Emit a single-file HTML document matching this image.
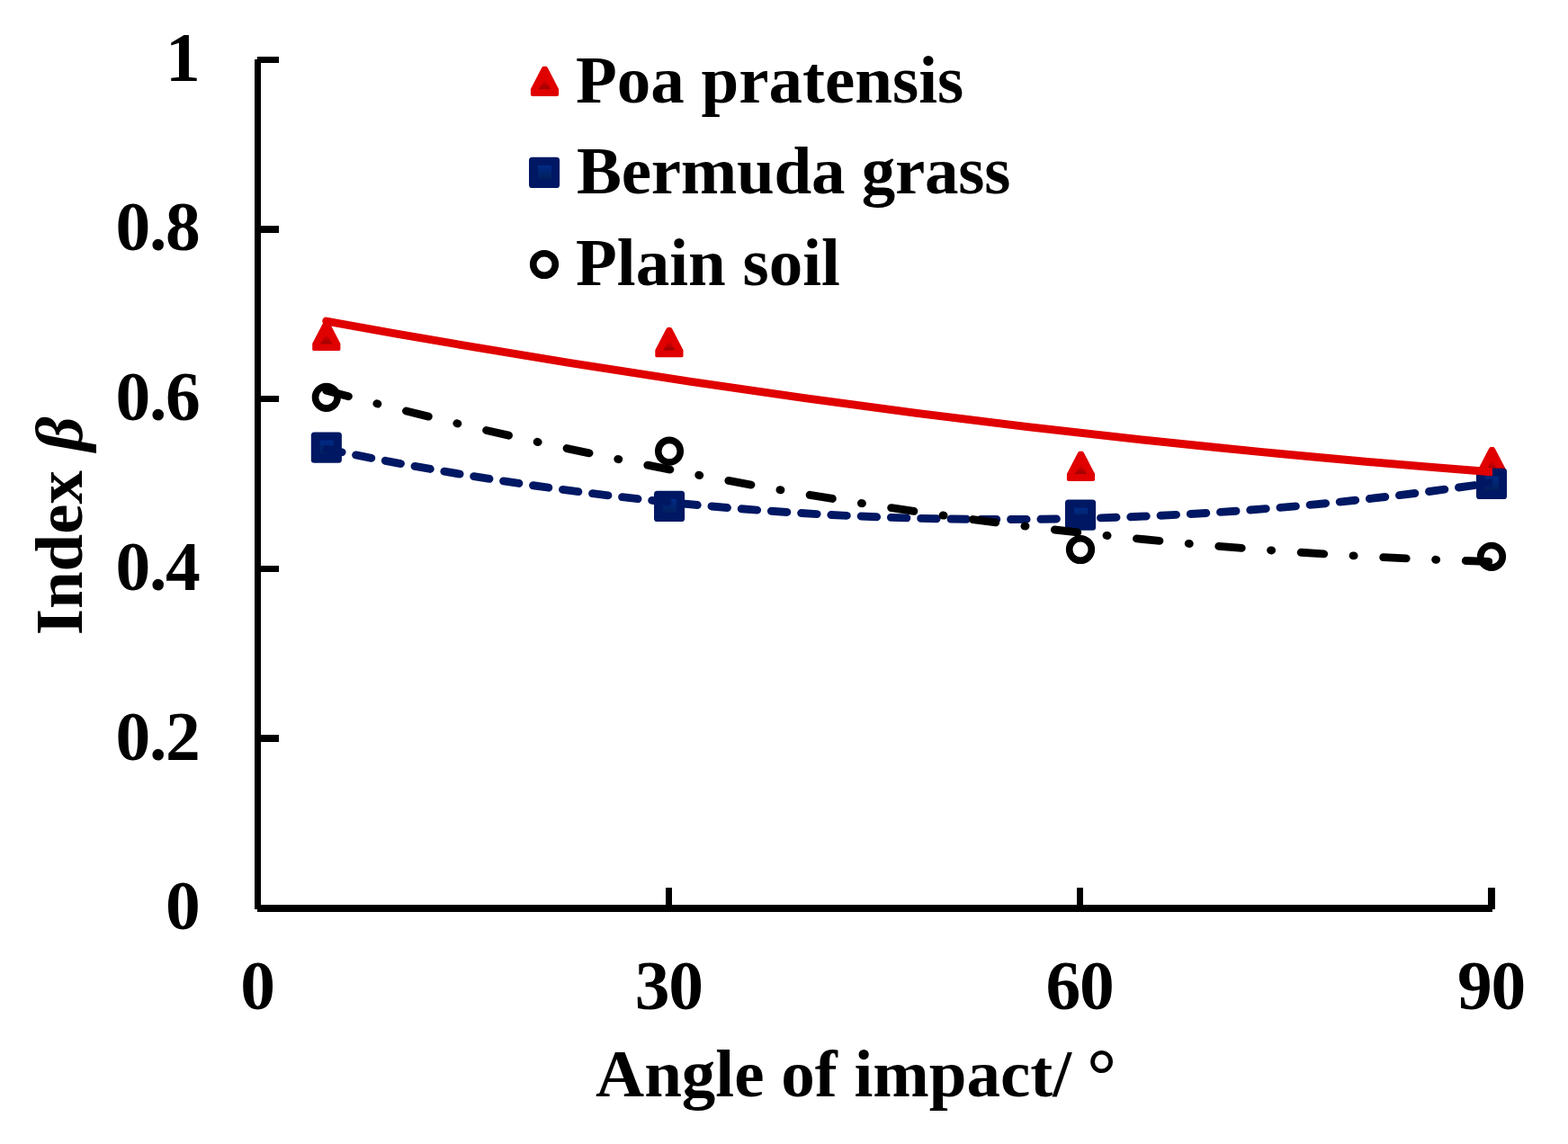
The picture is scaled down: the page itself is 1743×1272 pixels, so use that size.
<!DOCTYPE html>
<html lang="en">
<head>
<meta charset="utf-8">
<title>Index β versus angle of impact</title>
<style>
html,body{margin:0;padding:0;background:#fff;}
body{width:1743px;height:1272px;overflow:hidden;}
svg{display:block;}
text{font-family:"Liberation Serif","DejaVu Serif",serif;font-weight:bold;font-size:75px;fill:#000;}
.num text{font-size:77.5px;letter-spacing:-1.25px;}
</style>
</head>
<body>
<svg width="1743" height="1272" viewBox="0 0 1743 1272">
<defs>
<linearGradient id="gr" x1="0" y1="0" x2="0" y2="1"><stop offset="0.1" stop-color="#d60000"/><stop offset="1" stop-color="#9c0000"/></linearGradient>
<linearGradient id="gb" x1="0" y1="0" x2="0" y2="1"><stop offset="0" stop-color="#002a86"/><stop offset="1" stop-color="#00205c"/></linearGradient>
<clipPath id="plot"><rect x="0" y="0" width="1659" height="1272"/></clipPath>
</defs>
<rect width="1743" height="1272" fill="#fff"/>

<g fill="#000" shape-rendering="crispEdges">
<rect x="283" y="66" width="7" height="945"/>
<rect x="286" y="1006" width="1373" height="8"/>
<rect x="286" y="63" width="24" height="7"/>
<rect x="286" y="251" width="24" height="8"/>
<rect x="286" y="440" width="24" height="7"/>
<rect x="286" y="629" width="24" height="7"/>
<rect x="286" y="817" width="24" height="8"/>
<rect x="740" y="987" width="7" height="24"/>
<rect x="1197" y="987" width="7" height="24"/>
<rect x="1654" y="987" width="8" height="24"/>
</g>
<g class="num" text-anchor="end">
<text x="221.6" y="90.3">1</text>
<text x="221.6" y="278.3">0.8</text>
<text x="221.6" y="467.3">0.6</text>
<text x="221.6" y="656.2">0.4</text>
<text x="221.6" y="844.8">0.2</text>
<text x="221.6" y="1033.3">0</text>
</g>
<g class="num" text-anchor="middle">
<text x="286.0" y="1122.3">0</text>
<text x="743.2" y="1122.3">30</text>
<text x="1200.0" y="1122.3">60</text>
<text x="1657.5" y="1122.3">90</text>
</g>
<text x="662" y="1219">Angle of impact/ <tspan font-size="82" dx="-1.6" dy="4.2">°</tspan></text>
<text transform="translate(90.5 706.3) rotate(-90)">Index <tspan font-style="italic" dx="2.5">β</tspan></text>
<g transform="translate(605.5 90.4)"><path d="M-1.4-16.6H1.4Q2.6-16.6 3.4-15L15.6 8.6V15.2Q15.4 16.6 13.6 16.6H-13.6Q-15.4 16.6-15.6 15.2V8.6L-3.4-15Q-2.6-16.6-1.4-16.6Z" fill="#e00000"/><path d="M0-1.6L6.8 8.7H-6.8Z" fill="url(#gr)"/></g>
<text x="640" y="114">Poa pratensis</text>
<g transform="translate(605.0 192.0)"><rect x="-17" y="-17.2" width="34.1" height="34.2" rx="3.6" fill="#001863"/><rect x="-7" y="-8.1" width="15" height="15" fill="url(#gb)"/></g>
<text x="641" y="215" letter-spacing="-0.25">Bermuda grass</text>
<circle cx="605.0" cy="294.0" r="12.3" fill="none" stroke="#000" stroke-width="7.6"/>
<text x="640" y="317">Plain soil</text>
<g>
<g transform="translate(362.8 373.5)"><path d="M-1.4-16.6H1.4Q2.6-16.6 3.4-15L15.6 8.6V15.2Q15.4 16.6 13.6 16.6H-13.6Q-15.4 16.6-15.6 15.2V8.6L-3.4-15Q-2.6-16.6-1.4-16.6Z" fill="#e00000"/><path d="M0-1.6L6.8 8.7H-6.8Z" fill="url(#gr)"/></g>
<g transform="translate(743.9 380.7)"><path d="M-1.4-16.6H1.4Q2.6-16.6 3.4-15L15.6 8.6V15.2Q15.4 16.6 13.6 16.6H-13.6Q-15.4 16.6-15.6 15.2V8.6L-3.4-15Q-2.6-16.6-1.4-16.6Z" fill="#e00000"/><path d="M0-1.6L6.8 8.7H-6.8Z" fill="url(#gr)"/></g>
<g transform="translate(1201.5 518.4)"><path d="M-1.4-16.6H1.4Q2.6-16.6 3.4-15L15.6 8.6V15.2Q15.4 16.6 13.6 16.6H-13.6Q-15.4 16.6-15.6 15.2V8.6L-3.4-15Q-2.6-16.6-1.4-16.6Z" fill="#e00000"/><path d="M0-1.6L6.8 8.7H-6.8Z" fill="url(#gr)"/></g>
<g transform="translate(1658.5 513.7)"><path d="M-1.4-16.6H1.4Q2.6-16.6 3.4-15L15.6 8.6V15.2Q15.4 16.6 13.6 16.6H-13.6Q-15.4 16.6-15.6 15.2V8.6L-3.4-15Q-2.6-16.6-1.4-16.6Z" fill="#e00000"/><path d="M0-1.6L6.8 8.7H-6.8Z" fill="url(#gr)"/></g>
<g transform="translate(362.8 497.8)"><rect x="-17" y="-17.2" width="34.1" height="34.2" rx="3.6" fill="#001863"/><rect x="-7" y="-8.1" width="15" height="15" fill="url(#gb)"/></g>
<g transform="translate(744.0 563.0)"><rect x="-17" y="-17.2" width="34.1" height="34.2" rx="3.6" fill="#001863"/><rect x="-7" y="-8.1" width="15" height="15" fill="url(#gb)"/></g>
<g transform="translate(1201.0 572.8)"><rect x="-17" y="-17.2" width="34.1" height="34.2" rx="3.6" fill="#001863"/><rect x="-7" y="-8.1" width="15" height="15" fill="url(#gb)"/></g>
<g transform="translate(1658.0 538.0)"><rect x="-17" y="-17.2" width="34.1" height="34.2" rx="3.6" fill="#001863"/><rect x="-7" y="-8.1" width="15" height="15" fill="url(#gb)"/></g>
<circle cx="362.8" cy="441.8" r="12.3" fill="none" stroke="#000" stroke-width="7.6"/>
<circle cx="744.0" cy="501.7" r="12.3" fill="none" stroke="#000" stroke-width="7.6"/>
<circle cx="1201.0" cy="611.0" r="12.3" fill="none" stroke="#000" stroke-width="7.6"/>
<circle cx="1658.0" cy="618.8" r="12.3" fill="none" stroke="#000" stroke-width="7.6"/>
</g>
<g fill="none" stroke-width="8.9" stroke-linecap="round" clip-path="url(#plot)">
<path d="M362.70 357.03 Q1010.40 475.54 1658.10 524.75" stroke="#e00000"/>
<path d="M362.70 499.23 Q1010.40 633.99 1658.10 536.70" stroke="#001863" stroke-dasharray="17.5 15.806" stroke-dashoffset="-0.24"/>
<path d="M362.70 434.21 Q1010.40 605.84 1658.10 624.44" stroke="#000" stroke-dasharray="25.5 32.5 1 32.67"/>
</g>
</svg>
</body>
</html>
